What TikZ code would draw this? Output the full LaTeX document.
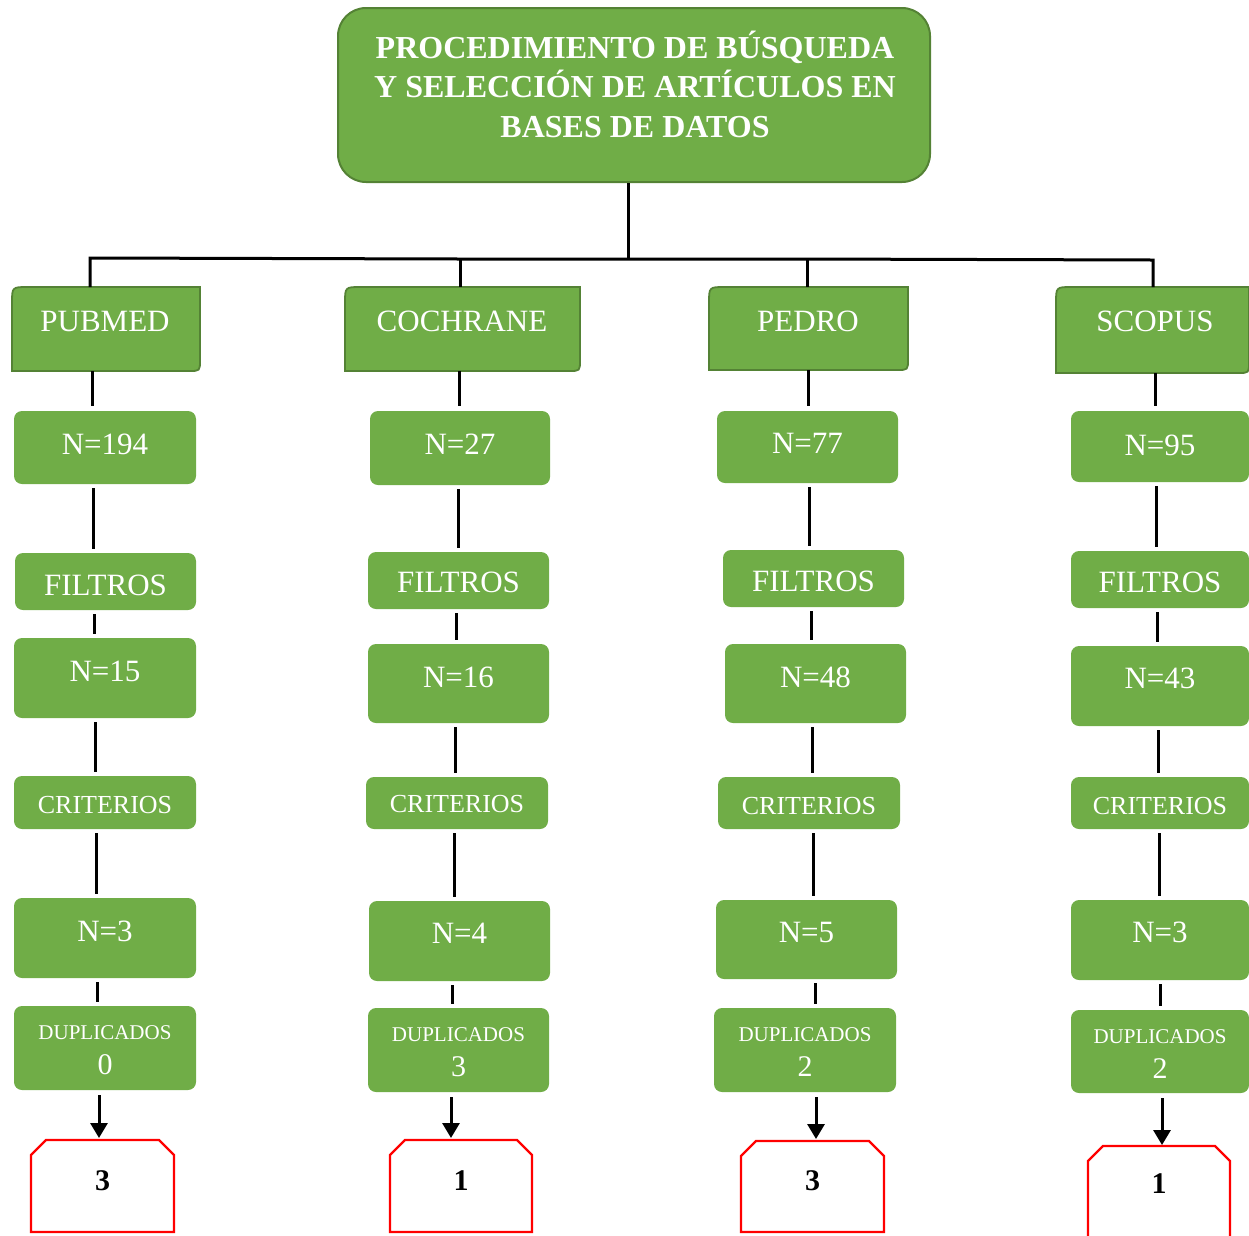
\documentclass[tikz,border=0pt]{standalone}
\usepackage{fontspec}
\setmainfont{Liberation Serif}
\usetikzlibrary{fit,calc,arrows.meta}
\definecolor{gr}{HTML}{70AD47}
\definecolor{gdark}{HTML}{548235}
\tikzset{
  gbox/.style={fill=gr, rounded corners=8pt, inner sep=0pt, outer sep=0pt},
  fitb/.style={inner sep=0pt, outer sep=0pt},
  hdr/.style={fill=gr, draw=gdark, line width=1.8pt},
  rbox/.style={draw=red, line width=2.4pt},
  wt/.style={text=white, inner sep=0pt, outer sep=0pt},
  bigf/.style={font=\fontsize{31}{35}\selectfont},
  crif/.style={font=\fontsize{26}{30}\selectfont},
  dupf/.style={font=\fontsize{21}{24}\selectfont},
  numf/.style={font=\fontsize{30}{34}\selectfont},
  redf/.style={text=black, inner sep=0pt, font=\fontsize{30}{34}\selectfont\bfseries},
  conn/.style={draw=black, line width=3pt},
  arr/.style={draw=black, line width=3pt, -{Triangle[width=17pt,length=15pt]}},
}
\newcommand\GB[8]{\node[gbox, fit={(#2,#3)(#4,#5)}] (#1) {};
  \node[wt,#7] (#1-t) at ({(#2+#4)/2},#6) {#8};}
\newcommand\DU[6]{\node[gbox, fit={(#2,#3)(#4,#5)}] (#1) {};
  \node[wt,dupf] (#1-t) at ({(#2+#4)/2},#3+27) {DUPLICADOS};
  \node[wt,numf] (#1-n) at ({(#2+#4)/2},#3+59) {#6};}
\newcommand\HD[7]{\path[hdr] (#2,#5) -- (#2,#3+16) .. controls (#2,#3) .. (#2+16,#3) -- (#4,#3) -- (#4,#5-11) .. controls (#4,#5) .. (#4-11,#5) -- cycle;
  \node[fitb, fit={(#2,#3)(#4,#5)}] (#1) {};
  \node[wt,bigf] (#1-t) at (#6,321) {#7};}
\newcommand\RB[7]{\path[rbox] (#2,#5) -- (#2,#3+15) -- (#2+15,#3) -- (#4-15,#3) -- (#4,#3+15) -- (#4,#5) -- cycle;
  \node[fitb, fit={(#2,#3)(#4,#5)}] (#1) {};
  \node[redf] (#1-t) at ({(#2+#4)/2},#6) {#7};}
\newcommand\CN[3]{\draw[conn] (#1.south -| #3,0) -- (#2.north -| #3,0);}
\begin{document}
\begin{tikzpicture}[x=1pt,y=-1pt]
\useasboundingbox (0,0) rectangle (1249,1235);
% title
\node[fill=gr, draw=gdark, line width=2pt, rounded corners=28pt, inner sep=0pt, fit={(338,8)(930,182)}] (top) {};
\node[wt, align=center, font=\fontsize{32}{39.5}\selectfont\bfseries] (top-t) at (635,84) {PROCEDIMIENTO DE BÚSQUEDA\\Y SELECCIÓN DE ARTÍCULOS EN\\BASES DE DATOS};
% bus
\coordinate (bm) at (628,258);
\coordinate (b1) at (90,258);
\coordinate (b2) at (460,259);
\coordinate (b3) at (807,259);
\coordinate (b4) at (1153,260);
% headers
\HD{h1}{12}{287}{200}{371}{105}{PUBMED}
\HD{h2}{345}{287}{580}{371}{462}{COCHRANE}
\HD{h3}{709}{287}{908}{370}{808}{PEDRO}
\HD{h4}{1056}{287}{1249}{373}{1155}{SCOPUS}
\draw[conn] (top.south -| bm) -- (bm);
\draw[conn] (h1.north -| b1) -- (b1) -- (b2) -- (b3) -- (b4) -- (h4.north -| b4);
\draw[conn] (b2) -- (h2.north -| b2);
\draw[conn] (b3) -- (h3.north -| b3);
% column 1
\GB{p1}{14}{411}{196}{484}{444}{bigf}{N=194}
\GB{f1}{15}{553}{196}{610}{585}{bigf}{FILTROS}
\GB{q1}{14}{638}{196}{718}{671}{bigf}{N=15}
\GB{c1}{14}{776}{196}{829}{805}{crif}{CRITERIOS}
\GB{r1}{14}{898}{196}{978}{931}{bigf}{N=3}
\DU{d1}{14}{1006}{196}{1090}{0}
\RB{e1}{31}{1140}{174}{1232}{1181}{3}
% column 2
\GB{p2}{370}{411}{550}{485}{444}{bigf}{N=27}
\GB{f2}{368}{552}{549}{609}{582}{bigf}{FILTROS}
\GB{q2}{368}{644}{549}{723}{677}{bigf}{N=16}
\GB{c2}{366}{777}{548}{829}{804}{crif}{CRITERIOS}
\GB{r2}{369}{901}{550}{981}{933}{bigf}{N=4}
\DU{d2}{368}{1008}{549}{1092}{3}
\RB{e2}{390}{1140}{532}{1232}{1181}{1}
% column 3
\GB{p3}{717}{411}{898}{483}{443}{bigf}{N=77}
\GB{f3}{723}{550}{904}{607}{581}{bigf}{FILTROS}
\GB{q3}{725}{644}{906}{723}{677}{bigf}{N=48}
\GB{c3}{718}{777}{900}{829}{806}{crif}{CRITERIOS}
\GB{r3}{716}{900}{897}{979}{932}{bigf}{N=5}
\DU{d3}{714}{1008}{896}{1092}{2}
\RB{e3}{741}{1141}{884}{1232}{1181}{3}
% column 4
\GB{p4}{1071}{411}{1249}{482}{445}{bigf}{N=95}
\GB{f4}{1071}{551}{1249}{608}{582}{bigf}{FILTROS}
\GB{q4}{1071}{646}{1249}{726}{678}{bigf}{N=43}
\GB{c4}{1071}{777}{1249}{829}{806}{crif}{CRITERIOS}
\GB{r4}{1071}{900}{1249}{980}{932}{bigf}{N=3}
\DU{d4}{1071}{1010}{1249}{1093}{2}
\RB{e4}{1088}{1146}{1230}{1250}{1184}{1}
% connectors
\begin{scope}[shorten >=5pt]
\CN{h1}{p1}{92}\CN{h2}{p2}{459}\CN{h3}{p3}{808}\CN{h4}{p4}{1155}
\end{scope}
\begin{scope}[shorten <=4pt, shorten >=4pt]
\CN{p1}{f1}{93}\CN{f1}{q1}{94}\CN{q1}{c1}{95}\CN{c1}{r1}{96}\CN{r1}{d1}{97}
\CN{p2}{f2}{458}\CN{f2}{q2}{456}\CN{q2}{c2}{455}\CN{c2}{r2}{454}\CN{r2}{d2}{452}
\CN{p3}{f3}{809}\CN{f3}{q3}{811}\CN{q3}{c3}{812}\CN{c3}{r3}{813}\CN{r3}{d3}{815}
\CN{p4}{f4}{1156}\CN{f4}{q4}{1157}\CN{q4}{c4}{1158}\CN{c4}{r4}{1159}\CN{r4}{d4}{1160}
\end{scope}
\draw[arr, shorten <=5pt, shorten >=2pt] (d1.south -| 99,0) -- (e1.north -| 99,0);
\draw[arr, shorten <=5pt, shorten >=2pt] (d2.south -| 451,0) -- (e2.north -| 451,0);
\draw[arr, shorten <=5pt, shorten >=2pt] (d3.south -| 816,0) -- (e3.north -| 816,0);
\draw[arr, shorten <=5pt, shorten >=1pt] (d4.south -| 1162,0) -- (e4.north -| 1162,0);
\end{tikzpicture}
\end{document}
